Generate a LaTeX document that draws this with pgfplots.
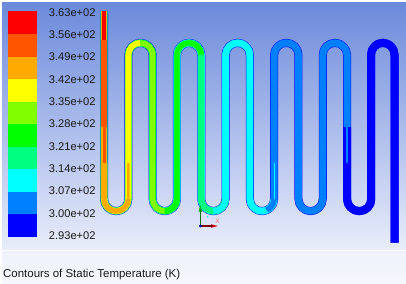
\documentclass[border=0pt]{standalone}
\usepackage{fontspec}
\setmainfont{Liberation Sans}
\usepackage{pgfplots}
\usepackage{pgfplotstable}
\pgfplotsset{compat=1.18}
\definecolor{cA}{HTML}{FF0000}
\definecolor{cB}{HTML}{FF5500}
\definecolor{cC}{HTML}{FFAA00}
\definecolor{cD}{HTML}{FFFF00}
\definecolor{cE}{HTML}{80FF00}
\definecolor{cF}{HTML}{00FF00}
\definecolor{cG}{HTML}{00FF80}
\definecolor{cH}{HTML}{00FFFF}
\definecolor{cI}{HTML}{0080FF}
\definecolor{cJ}{HTML}{0000FF}
\definecolor{bgT}{RGB}{108,138,219}
\definecolor{bgB}{RGB}{233,237,250}
\definecolor{pT}{RGB}{238,241,251}
\definecolor{pB}{RGB}{247,248,254}
\pgfplotstableread{
x y
104.05 11
104.05 40
104.05 55
104.05 91
104.05 127
104.05 163
104.05 199
104.98 203.65
107.61 207.59
111.55 210.22
116.2 211.15
120.85 210.22
124.79 207.59
127.42 203.65
128.35 199
128.35 163
128.35 127
128.35 91
128.35 55
129.28 50.35
131.91 46.41
135.85 43.78
140.5 42.85
145.15 43.78
149.09 46.41
151.72 50.35
152.65 55
152.65 91
152.65 127
152.65 163
152.65 199
153.58 203.65
156.21 207.59
160.15 210.22
164.8 211.15
169.45 210.22
173.39 207.59
176.02 203.65
176.95 199
176.95 163
176.95 127
176.95 91
176.95 55
177.88 50.35
180.51 46.41
184.45 43.78
189.1 42.85
193.75 43.78
197.69 46.41
200.32 50.35
201.25 55
201.25 91
201.25 127
201.25 163
201.25 199
202.18 203.65
204.81 207.59
208.75 210.22
213.4 211.15
218.05 210.22
221.99 207.59
224.62 203.65
225.55 199
225.55 163
225.55 127
225.55 91
225.55 55
226.48 50.35
229.11 46.41
233.05 43.78
237.7 42.85
242.35 43.78
246.29 46.41
248.92 50.35
249.85 55
249.85 91
249.85 127
249.85 163
249.85 199
250.78 203.65
253.41 207.59
257.35 210.22
262 211.15
266.65 210.22
270.59 207.59
273.22 203.65
274.15 199
274.15 163
274.15 127
274.15 91
274.15 55
275.08 50.35
277.71 46.41
281.65 43.78
286.3 42.85
290.95 43.78
294.89 46.41
297.52 50.35
298.45 55
298.45 91
298.45 127
298.45 163
298.45 199
299.38 203.65
302.01 207.59
305.95 210.22
310.6 211.15
315.25 210.22
319.19 207.59
321.82 203.65
322.75 199
322.75 163
322.75 127
322.75 91
322.75 55
323.68 50.35
326.31 46.41
330.25 43.78
334.9 42.85
339.55 43.78
343.49 46.41
346.12 50.35
347.05 55
347.05 91
347.05 127
347.05 163
347.05 199
347.98 203.65
350.61 207.59
354.55 210.22
359.2 211.15
363.85 210.22
367.79 207.59
370.42 203.65
371.2 199
371.2 163
371.2 127
371.2 91
371 55
371.9 50.35
374.4 46.41
378.2 43.78
382.8 42.85
387.4 43.78
391.2 46.41
393.7 50.35
394.5 55
394.5 91
394.5 163
394.5 199
394.5 242.7
}\tube
\newcommand\seg[4]{\addplot[no markers,line join=round,line cap=butt,line width=#4bp,color=#3,
  skip coords between index={0}{#1},skip coords between index={#2}{1000}] table[x=x,y=y] {\tube};}
\newcommand\lab[2]{\node[anchor=west,inner sep=0pt,font=\fontsize{11.2}{12}\selectfont,text=black!90] at (axis cs:48.6,#1) {#2};}
\begin{document}
\begin{tikzpicture}
\begin{axis}[scale only axis,width=406bp,height=284bp,xmin=0,xmax=406,ymin=0,ymax=284,y dir=reverse,hide axis,clip=true]
\path[fill=white] (axis cs:0,0) rectangle (axis cs:406,284);
\path[top color=bgT,bottom color=bgB] (axis cs:2,2.5) rectangle (axis cs:406,249);
\path[top color=pT,bottom color=pB] (axis cs:2,251) rectangle (axis cs:406,284);
% colour scale
\addplot[fill=cA,draw=none] coordinates {(8,11)(37,11)(37,34.4)(8,34.4)} -- cycle;
\addplot[fill=cB,draw=none] coordinates {(8,34.4)(37,34.4)(37,56.8)(8,56.8)} -- cycle;
\addplot[fill=cC,draw=none] coordinates {(8,56.8)(37,56.8)(37,79)(8,79)} -- cycle;
\addplot[fill=cD,draw=none] coordinates {(8,79)(37,79)(37,101.5)(8,101.5)} -- cycle;
\addplot[fill=cE,draw=none] coordinates {(8,101.5)(37,101.5)(37,124)(8,124)} -- cycle;
\addplot[fill=cF,draw=none] coordinates {(8,124)(37,124)(37,147)(8,147)} -- cycle;
\addplot[fill=cG,draw=none] coordinates {(8,147)(37,147)(37,169)(8,169)} -- cycle;
\addplot[fill=cH,draw=none] coordinates {(8,169)(37,169)(37,191.5)(8,191.5)} -- cycle;
\addplot[fill=cI,draw=none] coordinates {(8,191.5)(37,191.5)(37,214)(8,214)} -- cycle;
\addplot[fill=cJ,draw=none] coordinates {(8,214)(37,214)(37,236.5)(8,236.5)} -- cycle;
\lab{12.3}{3.63e+02}
\lab{34.8}{3.56e+02}
\lab{56.3}{3.49e+02}
\lab{79.2}{3.42e+02}
\lab{101.2}{3.35e+02}
\lab{124}{3.28e+02}
\lab{146.2}{3.21e+02}
\lab{168.3}{3.14e+02}
\lab{190.5}{3.07e+02}
\lab{213.2}{3.00e+02}
\lab{235.8}{2.93e+02}
\node[anchor=west,inner sep=0pt,font=\fontsize{11.5}{12}\selectfont,text=black!90] at (axis cs:3,274.3) {Contours of Static Temperature (K)};
% tube: wall
\seg{0}{155}{cJ}{8}
% outer layer
\seg{0}{27}{cG}{7.2}
\seg{26}{63}{cH}{7.2}
\seg{62}{87}{cH!50!cI}{7.2}
\seg{86}{127}{cI!90!cJ}{7}
% mid layer
\seg{0}{6}{cC}{6.4}
\seg{5}{15}{cD!60!cE}{6.4}
\seg{14}{23}{cE}{6.4}
\seg{22}{39}{cF}{6.4}
\seg{38}{63}{cG}{6.4}
\seg{62}{87}{cH}{6.4}
\seg{86}{127}{cI}{6.4}
% core
\seg{1}{5}{cB}{5.4}
\seg{0}{2}{cA}{4.6}
\seg{4}{7}{cC}{5.4}
\seg{3}{6}{cB}{3}
\seg{6}{15}{cC}{5.2}
\seg{14}{23}{cD}{5.4}
\seg{13}{16}{cC}{2.4}
\seg{22}{35}{cE}{5.4}
\seg{34}{51}{cF}{5.4}
\seg{50}{59}{cG}{5.4}
\seg{58}{84}{cH}{5.4}
\seg{83}{127}{cI}{5.6}
\seg{86}{88}{cH}{1.2}
\seg{124}{155}{cJ}{8}
\seg{124}{126}{cI}{1.2}
% triad
\addplot[no markers,line width=1pt,color=green!45!black] coordinates {(200.3,226)(200.3,209)};
\addplot[no markers,line width=1pt,color=green!70!black] coordinates {(199,212)(200.3,207)(201.6,212)};
\addplot[no markers,line width=1.1pt,color=red!50!black] coordinates {(200.3,226)(215,226)};
\addplot[no markers,line width=0.9pt,color=red!80!black] coordinates {(211,224.7)(216,226)(211,227.3)};
\addplot[only marks,mark=*,mark size=1.2pt,color=blue!80!black] coordinates {(200.3,226)};
\addplot[only marks,mark=*,mark size=0.7pt,color=cH!70!white] coordinates {(207.7,217)};
\node[anchor=center,inner sep=0pt,font=\fontsize{6.5}{7}\selectfont,text=red!55!white] at (axis cs:217.5,221.7) {X};
\end{axis}
\end{tikzpicture}
\end{document}
